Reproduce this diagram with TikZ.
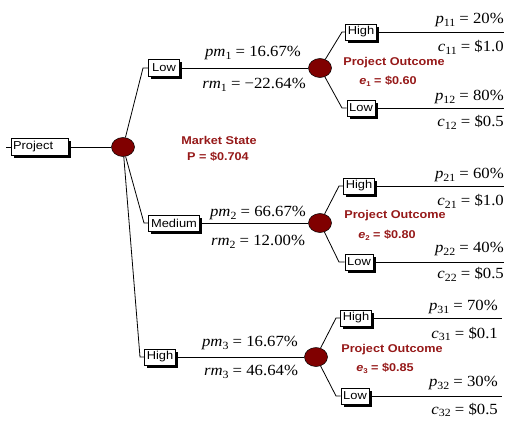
\documentclass[tikz,border=0pt]{standalone}
\usepackage{fontspec}
\setmainfont[FakeStretch=1.12]{Liberation Sans}
\newfontfamily\tms[FakeStretch=1.08]{Liberation Serif}
\usetikzlibrary{shapes.geometric,shadows}
\definecolor{dred}{RGB}{128,0,0}
\definecolor{tred}{RGB}{150,25,25}
\newcommand{\sbs}[1]{\raisebox{-0.4ex}{\fontsize{11}{11}\selectfont #1}}
\newcommand{\ssb}[1]{\raisebox{-0.3ex}{\fontsize{7}{7}\selectfont #1}}
\begin{document}
\begin{tikzpicture}[x=1pt,y=-1pt,
  box/.style={draw, fill=white, line width=0.6pt, inner sep=2pt, minimum height=16pt,
    font=\fontsize{11.5}{11.5}\selectfont,
    drop shadow={shadow xshift=2.5pt, shadow yshift=-2.5pt, fill=black, opacity=1}},
  chance/.style={ellipse, draw=black, fill=dred, minimum width=23pt, minimum height=19pt, inner sep=0pt, line width=0.5pt},
  ml/.style={font=\tms\fontsize{15.5}{15.5}\selectfont, inner sep=0pt},
  rl/.style={font=\bfseries\fontsize{11.3}{11.3}\selectfont, text=tred, inner sep=0pt},
  tree/.style={line width=0.8pt}]
\useasboundingbox (0,0) rectangle (506,423);

% root
\node[box, text width=53pt, align=left, minimum height=17pt] (proj) at (39.5,147) {Project};
\coordinate (pt) at (6,147);
\node[chance] (c0) at (123,147) {};
\draw[tree] (pt) -- (proj.west);
\draw[tree] (proj) -- (c0);

% level 1 boxes
\node[box, minimum width=31pt, minimum height=17pt] (b1) at (164,68) {Low};
\node[box, minimum width=51pt] (b2) at (174,223) {Medium};
\node[box, minimum width=30pt] (b3) at (160,357) {High};
\coordinate (k1) at (143,68);
\coordinate (k2) at (144,223);
\coordinate (k3) at (140,357);
\draw[tree] (c0) -- (k1) -- (b1.west);
\draw[tree] (c0) -- (k2) -- (b2.west);
\draw[tree] (c0) -- (k3) -- (b3.west);

% level 2 chance nodes
\node[chance] (c1) at (320,68) {};
\node[chance] (c2) at (320,223) {};
\node[chance] (c3) at (316,357) {};
\draw[tree] (b1) -- (c1);
\draw[tree] (b2) -- (c2);
\draw[tree] (b3) -- (c3);

% level 2 boxes
\node[box, minimum width=30pt] (h11) at (361,32) {High};
\node[box, minimum width=28pt] (l12) at (361,108) {Low};
\node[box, minimum width=30pt] (h21) at (359,186) {High};
\node[box, minimum width=28pt] (l22) at (359,262) {Low};
\node[box, minimum width=30pt] (h31) at (356,318) {High};
\node[box, minimum width=28pt] (l32) at (355,396) {Low};
\coordinate (k11) at (342,32);  \coordinate (e11) at (504,32);
\coordinate (k12) at (342,108); \coordinate (e12) at (504,108);
\coordinate (k21) at (339,186); \coordinate (e21) at (504,186);
\coordinate (k22) at (339,262); \coordinate (e22) at (504,262);
\coordinate (k31) at (336,318); \coordinate (e31) at (502,318);
\coordinate (k32) at (336,396); \coordinate (e32) at (502,396);
\draw[tree] (c1) -- (k11) -- (h11.west); \draw[tree] (h11.east) -- (e11);
\draw[tree] (c1) -- (k12) -- (l12.west); \draw[tree] (l12.east) -- (e12);
\draw[tree] (c2) -- (k21) -- (h21.west); \draw[tree] (h21.east) -- (e21);
\draw[tree] (c2) -- (k22) -- (l22.west); \draw[tree] (l22.east) -- (e22);
\draw[tree] (c3) -- (k31) -- (h31.west); \draw[tree] (h31.east) -- (e31);
\draw[tree] (c3) -- (k32) -- (l32.west); \draw[tree] (l32.east) -- (e32);

% level 1 labels
\node[ml] (pm1) at (253,53) {\textit{pm}\sbs{1} = 16.67\%};
\node[ml] (rm1) at (254,85) {\textit{rm}\sbs{1} = −22.64\%};
\node[ml] (pm2) at (258,213) {\textit{pm}\sbs{2} = 66.67\%};
\node[ml] (rm2) at (258,242) {\textit{rm}\sbs{2} = 12.00\%};
\node[ml] (pm3) at (250,343) {\textit{pm}\sbs{3} = 16.67\%};
\node[ml] (rm3) at (251,372) {\textit{rm}\sbs{3} = 46.64\%};

% right labels
\node[ml, anchor=east] (p11) at (504,20) {\textit{p}\sbs{11} = 20\%};
\node[ml, anchor=east] (q11) at (504,47) {\textit{c}\sbs{11} = \$1.0};
\node[ml, anchor=east] (p12) at (504,97) {\textit{p}\sbs{12} = 80\%};
\node[ml, anchor=east] (q12) at (504,122) {\textit{c}\sbs{12} = \$0.5};
\node[ml, anchor=east] (p21) at (504,175) {\textit{p}\sbs{21} = 60\%};
\node[ml, anchor=east] (q21) at (504,201) {\textit{c}\sbs{21} = \$1.0};
\node[ml, anchor=east] (p22) at (504,249) {\textit{p}\sbs{22} = 40\%};
\node[ml, anchor=east] (q22) at (504,274) {\textit{c}\sbs{22} = \$0.5};
\node[ml, anchor=east] (p31) at (498,307) {\textit{p}\sbs{31} = 70\%};
\node[ml, anchor=east] (q31) at (498,334) {\textit{c}\sbs{31} = \$0.1};
\node[ml, anchor=east] (p32) at (498,383) {\textit{p}\sbs{32} = 30\%};
\node[ml, anchor=east] (q32) at (498,410) {\textit{c}\sbs{32} = \$0.5};

% red labels
\node[rl] (ms) at (219,140) {Market State};
\node[rl] (mp) at (218,157) {P = \$0.704};
\node[rl] (po1) at (394,63) {Project Outcome};
\node[rl] (ev1) at (388,81) {\textit{e}\ssb{1} = \$0.60};
\node[rl] (po2) at (395,216) {Project Outcome};
\node[rl] (ev2) at (387,235) {\textit{e}\ssb{2} = \$0.80};
\node[rl] (po3) at (392,350) {Project Outcome};
\node[rl] (ev3) at (385,368) {\textit{e}\ssb{3} = \$0.85};
\end{tikzpicture}
\end{document}
